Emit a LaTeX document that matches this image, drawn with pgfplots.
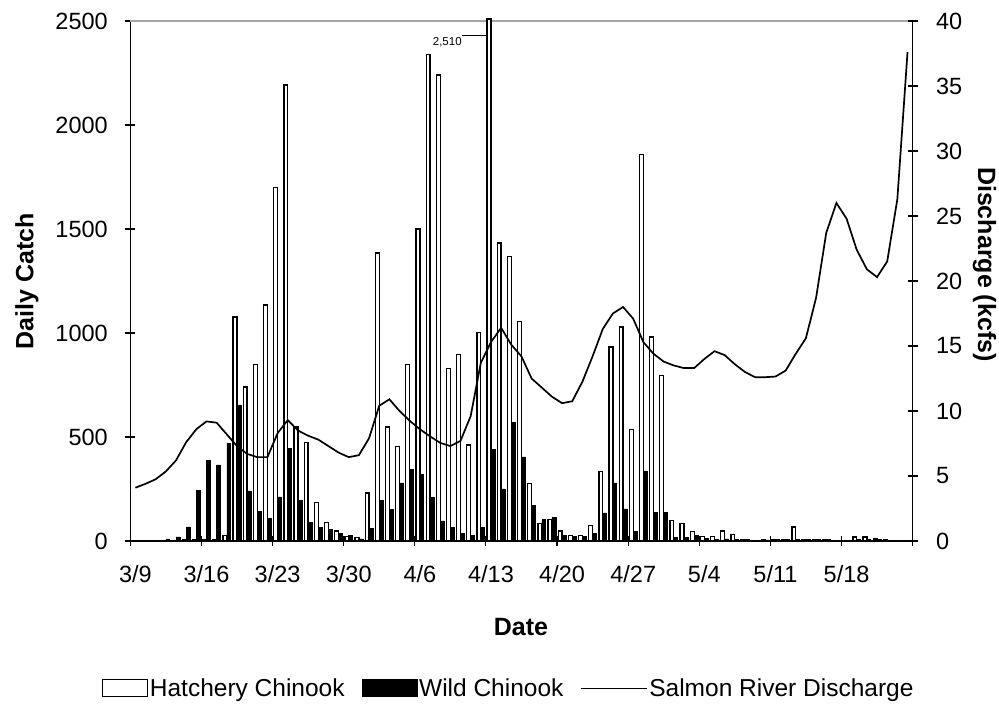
\documentclass[border=0pt]{standalone}
\usepackage{fontspec}
\setmainfont{Liberation Sans}
\usepackage{pgfplots}
\pgfplotsset{compat=1.18}
\usepackage{pgfplotstable}

\pgfplotstableread{
d H W Q
0 0 0 4.1
1 0 0 4.4
2 0 0 4.75
3 0 10 5.35
4 3 20 6.2
5 8 68 7.6
6 8 242 8.6
7 8 386 9.2
8 8 366 9.1
9 27 471 8.2
10 1077 655 7.3
11 741 241 6.7
12 848 144 6.45
13 1134 108 6.45
14 1700 212 8.3
15 2192 444 9.3
16 548 195 8.5
17 474 88 8.1
18 184 66 7.8
19 88 56 7.3
20 48 37 6.8
21 20 27 6.45
22 17 10 6.6
23 231 60 7.9
24 1384 194 10.4
25 548 153 10.9
26 454 280 10.0
27 848 345 9.25
28 1500 320 8.6
29 2339 210 8.05
30 2241 97 7.55
31 828 66 7.3
32 897 38 7.7
33 462 27 9.6
34 1003 66 13.7
35 2510 441 15.3
36 1433 251 16.4
37 1367 569 15.1
38 1056 405 14.2
39 277 173 12.5
40 83 103 11.8
41 103 112 11.1
42 48 27 10.6
43 27 24 10.75
44 27 24 12.25
45 75 38 14.2
46 335 135 16.3
47 932 279 17.5
48 1029 154 18.0
49 537 48 17.1
50 1858 337 15.3
51 981 137 14.4
52 797 137 13.8
53 97 19 13.5
54 84 19 13.3
55 46 27 13.3
56 20 14 14.0
57 20 8 14.6
58 48 10 14.3
59 30 8 13.6
60 8 8 13.0
61 0 0 12.6
62 8 5 12.6
63 8 8 12.65
64 8 8 13.1
65 67 8 14.4
66 8 8 15.6
67 8 8 18.7
68 8 8 23.7
69 0 0 26.0
70 0 0 24.8
71 19 8 22.4
72 19 8 20.9
73 10 8 20.3
74 5 3 21.5
75 0 0 26.3
76 0 0 37.6
}\datatable

\newcommand\fs{\fontsize{23.5}{27}\selectfont}
\newcommand\fl{\fontsize{25}{29}\selectfont}
\newcommand\fg{\fontsize{24.5}{28}\selectfont}

\begin{document}
\begin{tikzpicture}
\path[use as bounding box] (0pt,0pt) rectangle (999pt,711pt);
\begin{axis}[
  at={(130.3pt,170pt)}, anchor=south west,
  scale only axis, width=782.3pt, height=520pt,
  xmin=-0.5, xmax=76.5, ymin=0, ymax=2500,
  axis x line*=bottom, axis y line*=left,
  axis line style={black, line width=1.2pt},
  every tick/.style={black, line width=1.2pt},
  tick align=center, major tick length=10pt,
  xtick={-0.5,6.5,...,76.5}, xticklabels={},
  extra x ticks={0,7,...,70},
  extra x tick labels={3/9,3/16,3/23,3/30,4/6,4/13,4/20,4/27,5/4,5/11,5/18},
  extra x tick style={major tick length=0pt, xticklabel style={yshift=-21pt}},
  ytick={0,500,...,2500},
  /pgf/number format/1000 sep={},
  /pgf/number format/assume math mode=true,
  tick label style={font=\fs},
  yticklabel style={xshift=-14pt},
  ylabel={Daily Catch}, xlabel={Date},
  label style={font=\fl\bfseries},
  ylabel style={at={(axis description cs:-0.132,0.5)}, anchor=center},
  xlabel style={at={(axis description cs:0.4994,-0.165)}, anchor=center},
  legend style={at={(axis description cs:0.4835,-0.283)}, anchor=center, draw=none,
    legend columns=-1, font=\fg, inner sep=0pt,
    /tikz/every even column/.append style={column sep=15pt},
    /tikz/every odd column/.append style={column sep=0pt}},
  clip=false,
]
\draw[gray!70, line width=1.2pt] (rel axis cs:0,1) -- (rel axis cs:1,1);
\addplot[ybar, fill=white, draw=black, line width=1.3pt, bar width=0.38, bar shift=-0.19,
  legend image code/.code={\draw[fill=white, draw=black, line width=1.3pt] (0pt,-8.5pt) rectangle (45pt,8.5pt);}]
  table[x=d, y=H] {\datatable};
\addlegendentry{Hatchery Chinook}
\addplot[ybar, fill=black, draw=black, line width=0.5pt, bar width=0.38, bar shift=0.19,
  legend image code/.code={\draw[fill=black, draw=black] (0pt,-8.5pt) rectangle (55pt,8.5pt);}]
  table[x=d, y=W] {\datatable};
\addlegendentry{Wild Chinook}
\addlegendimage{legend image code/.code={\path (0pt,0pt) -- (10pt,0pt); \draw[black, line width=1.3pt] (10pt,0pt) -- (66pt,0pt);}}
\addlegendentry{Salmon River Discharge}
\node[font=\fontsize{11.5}{13}\selectfont] at (axis cs:30.7,2397) {2,510};
\draw[black, line width=1pt] (axis cs:32.15,2428) -- (axis cs:34.62,2428);
\end{axis}
\begin{axis}[
  at={(130.3pt,170pt)}, anchor=south west,
  scale only axis, width=782.3pt, height=520pt,
  xmin=-0.5, xmax=76.5, ymin=0, ymax=40,
  axis y line*=right, axis x line=none,
  axis line style={black, line width=1.2pt},
  every tick/.style={black, line width=1.2pt},
  tick align=center, major tick length=10pt,
  ytick={0,5,...,40},
  /pgf/number format/assume math mode=true,
  tick label style={font=\fs},
  yticklabel style={xshift=15pt},
  ylabel={Discharge (kcfs)},
  label style={font=\fl\bfseries},
  ylabel style={at={(axis description cs:1.092,0.532)}, anchor=center, rotate=180},
]
\addplot[black, line width=1.7pt, mark=none] table[x=d, y=Q] {\datatable};
\end{axis}
\end{tikzpicture}
\end{document}
